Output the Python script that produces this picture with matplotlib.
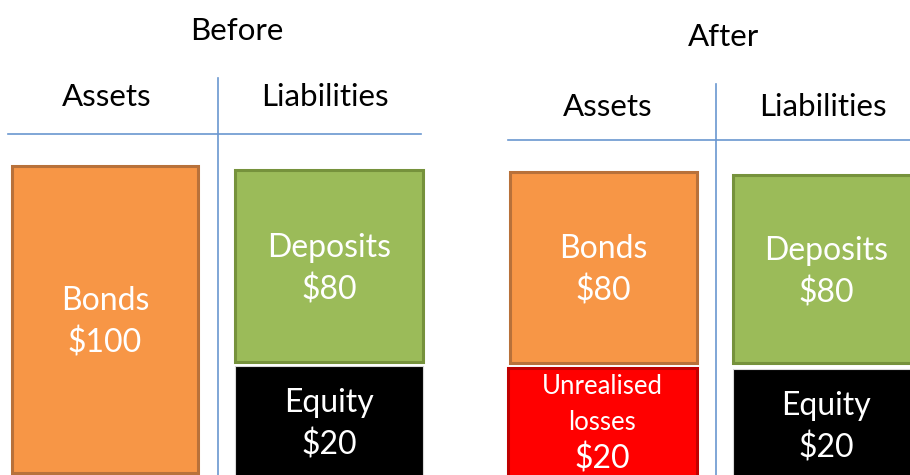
import matplotlib.pyplot as plt
from matplotlib.patches import Rectangle

# balance sheet contents
panel_titles = ['Before', 'After']
column_heads = ['Assets', 'Liabilities']

before_assets = ['Bonds']
before_asset_values = [100]
before_liabilities = ['Deposits', 'Equity']
before_liability_values = [80, 20]

after_assets = ['Bonds', 'Unrealised\nlosses']
after_asset_values = [80, 20]
after_liabilities = ['Deposits', 'Equity']
after_liability_values = [80, 20]

FACE = {'Bonds': '#F79646', 'Deposits': '#9BBB59', 'Equity': '#000000',
        'Unrealised\nlosses': '#FF0000'}
EDGE = {'Bonds': '#B8713A', 'Deposits': '#76923C', 'Equity': '#D9D9D9',
        'Unrealised\nlosses': '#C00000'}
LINE = '#6A97D0'
FONT = 'Lato'


def draw_box(ax, name, value, x0, y0, x1, y1):
    lw = 0.8 if name == 'Equity' else 2.2
    ax.add_patch(Rectangle((x0, y0), x1 - x0, y1 - y0, facecolor=FACE[name],
                           edgecolor=EDGE[name], linewidth=lw))
    cx = (x0 + x1) / 2
    if '\n' in name:
        for i, line in enumerate(name.split('\n')):
            ax.text(cx, y0 + 19 + 36 * i, line, color='white', fontsize=18.5,
                    family=FONT, ha='center', va='center')
        ax.text(cx, y0 + 91, '${}'.format(value), color='white', fontsize=23,
                family=FONT, ha='center', va='center')
    else:
        cy = (y0 + y1) / 2 if y1 <= 475 else y0 + 55
        cy += 3
        ax.text(cx, cy - 21, name, color='white', fontsize=23, family=FONT,
                ha='center', va='center')
        ax.text(cx, cy + 21, '${}'.format(value), color='white', fontsize=23,
                family=FONT, ha='center', va='center')


def draw_panel(ax, title, layout, assets, asset_values, liabilities, liability_values):
    ax.text(layout['title'][0], layout['title'][1], title, fontsize=22.5,
            family=FONT, ha='center', va='center')
    ax.text(layout['heads'][0], layout['heads'][2], column_heads[0], fontsize=22.5,
            family=FONT, ha='center', va='center')
    ax.text(layout['heads'][1], layout['heads'][2], column_heads[1], fontsize=22.5,
            family=FONT, ha='center', va='center')
    hx0, hx1, hy = layout['hline']
    ax.plot([hx0, hx1], [hy, hy], color=LINE, lw=1.2)
    vx, vy0 = layout['vline']
    ax.plot([vx, vx], [vy0, 480], color=LINE, lw=1.2)

    for name, value, box in zip(assets, asset_values, layout['asset_boxes']):
        draw_box(ax, name, value, *box)
    for name, value, box in zip(liabilities, liability_values, layout['liab_boxes']):
        draw_box(ax, name, value, *box)


before_layout = {
    'title': (237, 31), 'heads': (107, 325, 97),
    'hline': (8, 421, 134), 'vline': (218, 78),
    'asset_boxes': [(12, 166, 198, 473)],
    'liab_boxes': [(235, 170, 423, 362), (235, 366, 423, 490)],
}
after_layout = {
    'title': (724, 37), 'heads': (608, 823, 107),
    'hline': (508, 915, 140), 'vline': (716, 84),
    'asset_boxes': [(510, 172, 697, 363), (508, 368, 697, 490)],
    'liab_boxes': [(733, 175, 920, 363), (733, 369, 920, 490)],
}

fig = plt.figure(figsize=(9.1, 4.75), dpi=100)
ax = fig.add_axes([0, 0, 1, 1])
ax.set_xlim(0, 910)
ax.set_ylim(475, 0)
ax.axis('off')

draw_panel(ax, panel_titles[0], before_layout, before_assets, before_asset_values,
           before_liabilities, before_liability_values)
draw_panel(ax, panel_titles[1], after_layout, after_assets, after_asset_values,
           after_liabilities, after_liability_values)

fig.savefig('out.png', dpi=100)
